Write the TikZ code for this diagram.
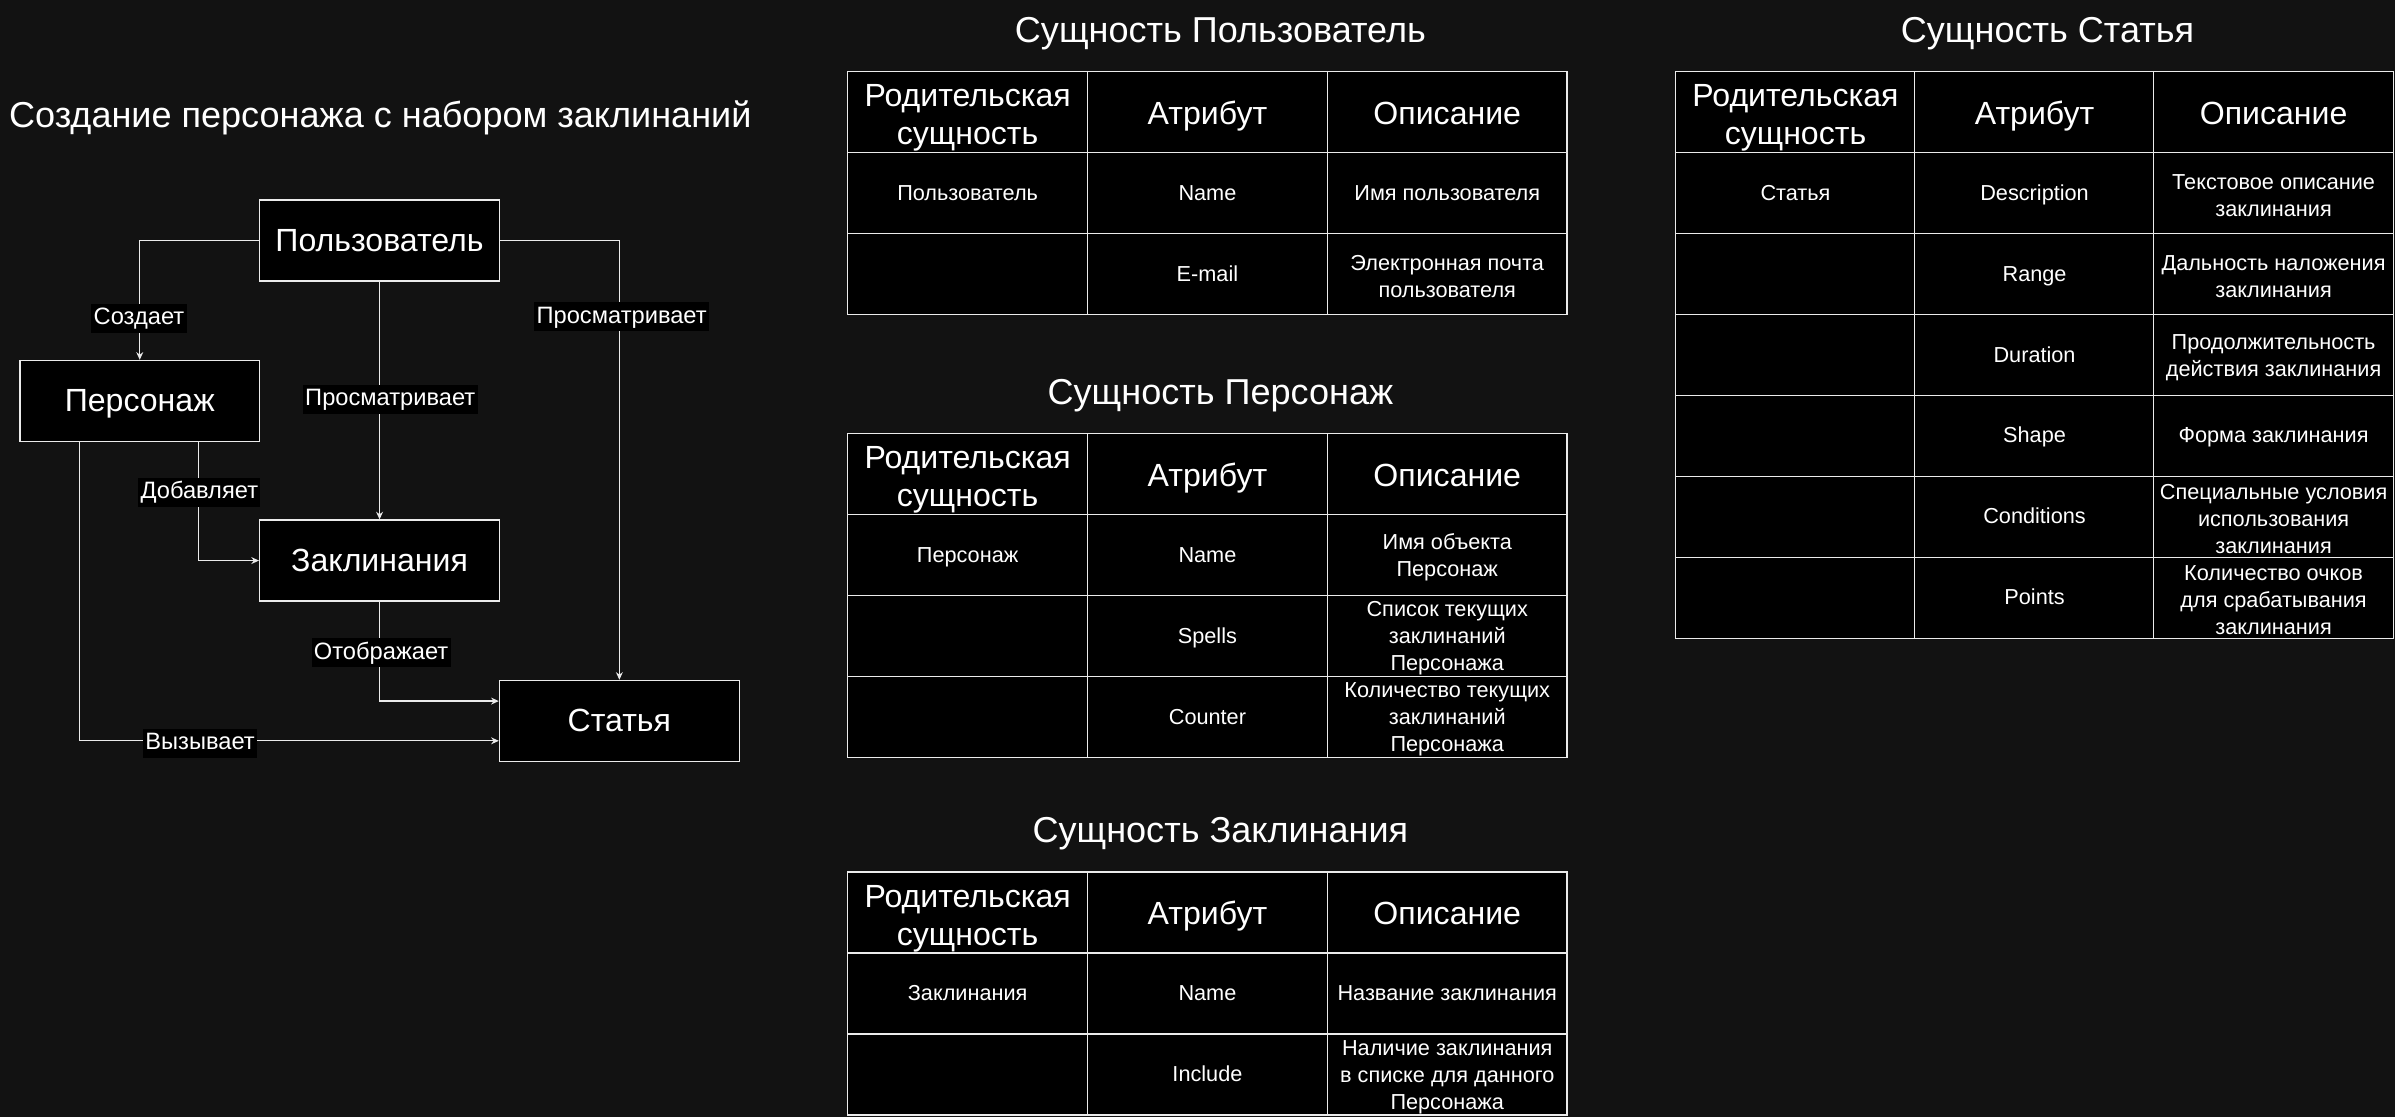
\documentclass[tikz,border=0pt]{standalone}
\usepackage{fontspec}
\setmainfont{Liberation Sans}
\usetikzlibrary{arrows.meta}
\definecolor{bg}{RGB}{18,18,18}
\definecolor{ln}{RGB}{235,235,235}

\begin{document}
\begin{tikzpicture}[x=1pt,y=-1pt,
  box/.style={draw=ln, fill=black, line width=0.9pt, minimum width=157pt, minimum height=53pt,
    text=white, font=\fontsize{21}{25}\selectfont, inner sep=0pt, text height=16pt, text depth=2pt},
  cellbox/.style={draw=ln, fill=black, line width=0.9pt, minimum width=157pt, minimum height=53pt,
    inner sep=0pt},
  celltext/.style={text=white, align=center, font=\fontsize{14.2}{17.7}\selectfont, inner sep=0pt},
  onetext/.style={celltext, text height=11pt, text depth=2pt},
  headtext/.style={text=white, align=center, font=\fontsize{21}{25}\selectfont, inner sep=0pt},
  cell/.style={cellbox, label={[onetext]center:{#1}}},
  cellm/.style={cellbox, label={[celltext, yshift=-1.5pt]center:{#1}}},
  head/.style={cellbox, label={[headtext, text height=18pt, text depth=2pt]center:{#1}}},
  headtwo/.style={cellbox, label={[headtext, yshift=-3.8pt]center:{#1}}},
  ttl/.style={text=white, font=\fontsize{23.6}{28}\selectfont, inner sep=0pt},
  lbl/.style={fill=black, text=white, font=\fontsize{15.5}{18}\selectfont, inner sep=1.5pt,
    text height=12pt, text depth=4pt},
  conn/.style={draw=ln, line width=0.9pt, -{Stealth[length=5pt,width=4.5pt]}},
]
\fill[bg] (0,0) rectangle (1568,731);
\useasboundingbox (0,0) rectangle (1568,731);

% ---------- flow diagram ----------
\node[ttl] (title) at (249,77) {Создание персонажа с набором заклинаний};
\node[box] (user)  at (248.5,157.5) {Пользователь};
\node[box] (char)  at (91.5,262.5)  {Персонаж};
\node[box] (spell) at (248.5,367)   {Заклинания};
\node[box] (art)   at (405.5,472)   {Статья};

\draw[conn] (user.west) -| (char.north);
\draw[conn] (user.south) -- (spell.north);
\draw[conn] (user.east) -| (art.north);
\draw[conn] ([xshift=38.5pt]char.south) |- (spell.west);
\draw[conn] (spell.south) |- ([yshift=13pt]art.west);
\draw[conn] ([xshift=-39.5pt]char.south) |- ([yshift=-13pt]art.west);

\node[lbl] (lcreate) at (91,208.5)    {Создает};
\node[lbl] (lview1)  at (255.5,261.5) {Просматривает};
\node[lbl] (lview2)  at (407,207.5)   {Просматривает};
\node[lbl] (ladd)    at (130.5,322.5) {Добавляет};
\node[lbl] (lshow)   at (249.5,427.5) {Отображает};
\node[lbl] (lcall)   at (131,486.5)   {Вызывает};

% ---------- entity: user ----------
\node[ttl] (tu) at (799,22) {Сущность Пользователь};
\node[headtwo={Родительская\\сущность}] (u01) at (633.5,73.5) {};
\node[head={Атрибут}]  (u02) at (790.5,73.5) {};
\node[head={Описание}] (u03) at (947.5,73.5) {};
\node[cell={Пользователь}]     (u11) at (633.5,126.5) {};
\node[cell={Name}]             (u12) at (790.5,126.5) {};
\node[cell={Имя пользователя}] (u13) at (947.5,126.5) {};
\node[cellbox]                 (u21) at (633.5,179.5) {};
\node[cell={E-mail}]           (u22) at (790.5,179.5) {};
\node[cellm={Электронная почта\\пользователя}] (u23) at (947.5,179.5) {};

% ---------- entity: character ----------
\node[ttl] (tp) at (799,259) {Сущность Персонаж};
\node[headtwo={Родительская\\сущность}] (p01) at (633.5,310.5) {};
\node[head={Атрибут}]  (p02) at (790.5,310.5) {};
\node[head={Описание}] (p03) at (947.5,310.5) {};
\node[cell={Персонаж}]  (p11) at (633.5,363.5) {};
\node[cell={Name}]      (p12) at (790.5,363.5) {};
\node[cellm={Имя объекта\\Персонаж}] (p13) at (947.5,363.5) {};
\node[cellbox]          (p21) at (633.5,416.5) {};
\node[cell={Spells}]    (p22) at (790.5,416.5) {};
\node[cellm={Список текущих\\заклинаний\\Персонажа}] (p23) at (947.5,416.5) {};
\node[cellbox]          (p31) at (633.5,469.5) {};
\node[cell={Counter}]   (p32) at (790.5,469.5) {};
\node[cellm={Количество текущих\\заклинаний\\Персонажа}] (p33) at (947.5,469.5) {};

% ---------- entity: spells ----------
\node[ttl] (tz) at (799,546) {Сущность Заклинания};
\node[headtwo={Родительская\\сущность}] (z01) at (633.5,597.5) {};
\node[head={Атрибут}]  (z02) at (790.5,597.5) {};
\node[head={Описание}] (z03) at (947.5,597.5) {};
\node[cell={Заклинания}] (z11) at (633.5,650.5) {};
\node[cell={Name}]       (z12) at (790.5,650.5) {};
\node[cell={Название заклинания}] (z13) at (947.5,650.5) {};
\node[cellbox]           (z21) at (633.5,703.5) {};
\node[cell={Include}]    (z22) at (790.5,703.5) {};
\node[cellm={Наличие заклинания\\в списке для данного\\Персонажа}] (z23) at (947.5,703.5) {};

% ---------- entity: article ----------
\node[ttl] (ts) at (1340.5,22) {Сущность Статья};
\node[headtwo={Родительская\\сущность}] (s01) at (1175.5,73.5) {};
\node[head={Атрибут}]  (s02) at (1332,73.5)   {};
\node[head={Описание}] (s03) at (1488.5,73.5) {};
\node[cell={Статья}]       (s11) at (1175.5,126.5) {};
\node[cell={Description}]  (s12) at (1332,126.5)   {};
\node[cellm={Текстовое описание\\заклинания}] (s13) at (1488.5,126.5) {};
\node[cellbox]             (s21) at (1175.5,179.5) {};
\node[cell={Range}]        (s22) at (1332,179.5)   {};
\node[cellm={Дальность наложения\\заклинания}] (s23) at (1488.5,179.5) {};
\node[cellbox]             (s31) at (1175.5,232.5) {};
\node[cell={Duration}]     (s32) at (1332,232.5)   {};
\node[cellm={Продолжительность\\действия заклинания}] (s33) at (1488.5,232.5) {};
\node[cellbox]             (s41) at (1175.5,285.5) {};
\node[cell={Shape}]        (s42) at (1332,285.5)   {};
\node[cell={Форма заклинания}] (s43) at (1488.5,285.5) {};
\node[cellbox]             (s51) at (1175.5,338.5) {};
\node[cell={Conditions}]   (s52) at (1332,338.5)   {};
\node[cellm={Специальные условия\\использования\\заклинания}] (s53) at (1488.5,338.5) {};
\node[cellbox]             (s61) at (1175.5,391.5) {};
\node[cell={Points}]       (s62) at (1332,391.5)   {};
\node[cellm={Количество очков\\для срабатывания\\заклинания}] (s63) at (1488.5,391.5) {};
\end{tikzpicture}
\end{document}
